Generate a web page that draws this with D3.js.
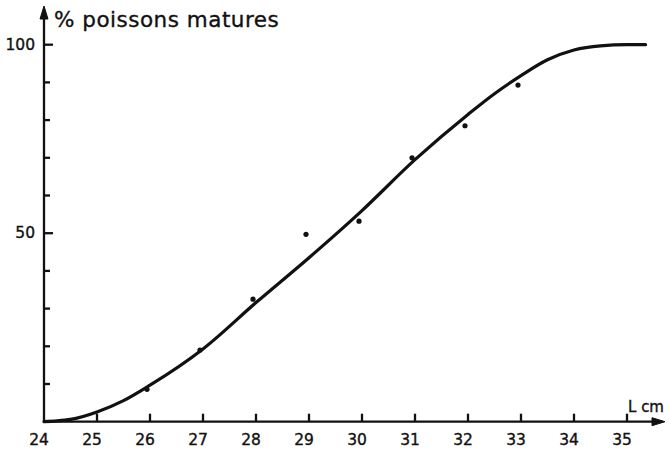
<!DOCTYPE html>
<html>
<head>
<meta charset="utf-8">
<script src="https://cdn.jsdelivr.net/npm/d3@7"></script>
<style>
  body { margin: 0; background: #fff; }
  text { font-family: "DejaVu Sans", sans-serif; fill: #111; stroke: #111; stroke-width: 0.35; }
</style>
</head>
<body>
<div id="chart"></div>
<script>
// fitted curve (length cm, % mature)
var curveLen = [24, 24.25, 24.5, 25, 25.5, 26, 27, 28, 29, 30, 31, 32, 32.5, 33, 33.5, 34, 34.5, 35, 35.35];
var curvePct = [0, 0.2, 0.6, 2.6, 5.6, 9.7, 19.3, 31.6, 43.5, 56, 69.5, 81.5, 87, 91.8, 96, 98.6, 99.7, 100, 100];

// observed points
var obsLen = [26, 27, 28, 29, 30, 31, 32, 33];
var obsPct = [8.6, 19, 32.5, 49.7, 53.2, 70, 78.5, 89.3];

var xTicks = [24, 25, 26, 27, 28, 29, 30, 31, 32, 33, 34, 35];
var yTicks = [10, 20, 30, 40, 50, 60, 70, 80, 90, 100];
var yLabels = [50, 100];

var width = 669, height = 454;

var svg = d3.select("#chart").append("svg")
    .attr("width", width)
    .attr("height", height);

var x = d3.scaleLinear().domain([24, 35]).range([44, 627]);
var y = d3.scaleLinear().domain([0, 100]).range([421.7, 44.7]);

// axes
var axes = svg.append("g").attr("class", "axes")
    .attr("stroke", "#111").attr("stroke-width", 2.3).attr("fill", "none");

axes.append("line")
    .attr("x1", x(24)).attr("y1", y(0))
    .attr("x2", 662).attr("y2", y(0));
axes.append("path")
    .attr("d", "M652," + (y(0) - 4) + "L665," + y(0) + "L652," + (y(0) + 4) + "Z")
    .attr("fill", "#111").attr("stroke-width", 1);

axes.append("line")
    .attr("x1", x(24)).attr("y1", y(0))
    .attr("x2", x(24)).attr("y2", 11);
axes.append("path")
    .attr("d", "M" + (x(24) - 4) + ",19L" + x(24) + ",6L" + (x(24) + 4) + ",19Z")
    .attr("fill", "#111").attr("stroke-width", 1);

// x ticks (upward)
axes.selectAll(".xt")
    .data(xTicks.slice(1))
    .enter().append("line")
    .attr("class", "xt")
    .attr("x1", function(d) { return x(d); })
    .attr("x2", function(d) { return x(d); })
    .attr("y1", y(0))
    .attr("y2", y(0) - 8);

// y ticks (rightward)
axes.selectAll(".yt")
    .data(yTicks)
    .enter().append("line")
    .attr("class", "yt")
    .attr("x1", x(24))
    .attr("x2", function(d) { return x(24) + (d % 50 === 0 ? 9 : 6); })
    .attr("y1", function(d) { return y(d); })
    .attr("y2", function(d) { return y(d); });

// tick labels
svg.selectAll(".xl")
    .data(xTicks)
    .enter().append("text")
    .attr("class", "xl")
    .attr("x", function(d) { return x(d) - 5; })
    .attr("y", 445)
    .attr("text-anchor", "middle")
    .attr("font-size", 15.5)
    .text(function(d) { return d; });

svg.selectAll(".yl")
    .data(yLabels)
    .enter().append("text")
    .attr("class", "yl")
    .attr("x", x(24) - 9)
    .attr("y", function(d) { return y(d) + 5; })
    .attr("text-anchor", "end")
    .attr("font-size", 15.5)
    .text(function(d) { return d; });

// titles
svg.append("text")
    .attr("x", 54).attr("y", 27)
    .attr("font-size", 21.5)
    .attr("letter-spacing", 0.5)
    .text("% poissons matures");

svg.append("text")
    .attr("x", 628).attr("y", 412)
    .attr("font-size", 15)
    .text("L cm");

// curve
var line = d3.line()
    .x(function(d) { return x(d[0]); })
    .y(function(d) { return y(d[1]); })
    .curve(d3.curveMonotoneX);

svg.append("path")
    .datum(d3.zip(curveLen, curvePct))
    .attr("d", line)
    .attr("fill", "none")
    .attr("stroke", "#111")
    .attr("stroke-width", 3.2)
    .attr("stroke-linecap", "round");

// observations
svg.selectAll(".obs")
    .data(d3.zip(obsLen, obsPct))
    .enter().append("circle")
    .attr("class", "obs")
    .attr("cx", function(d) { return x(d[0]) - 3; })
    .attr("cy", function(d) { return y(d[1]); })
    .attr("r", 2.6)
    .attr("fill", "#111");
</script>
</body>
</html>
